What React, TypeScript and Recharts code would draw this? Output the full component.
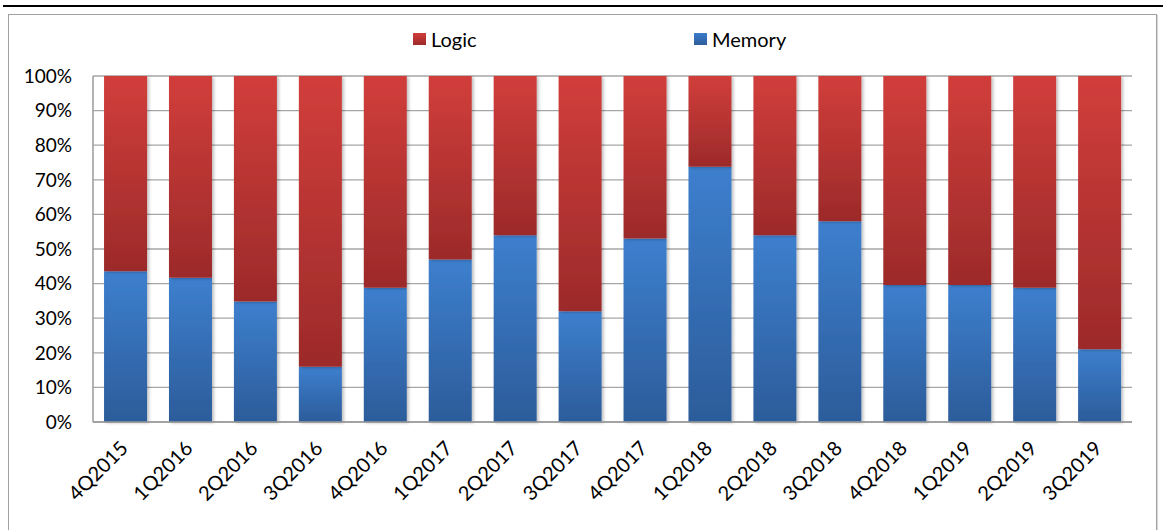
import React from 'react';
import { BarChart, Bar, XAxis, YAxis, CartesianGrid, Legend } from 'recharts';

const quarters = [
  '4Q2015', '1Q2016', '2Q2016', '3Q2016', '4Q2016', '1Q2017', '2Q2017', '3Q2017',
  '4Q2017', '1Q2018', '2Q2018', '3Q2018', '4Q2018', '1Q2019', '2Q2019', '3Q2019',
];
const memoryShare = [43.6, 41.7, 34.8, 16, 38.8, 47, 54, 32, 53, 73.8, 54, 58, 39.6, 39.6, 38.8, 21];
const logicShare = [56.4, 58.3, 65.2, 84, 61.2, 53, 46, 68, 47, 26.2, 46, 42, 60.4, 60.4, 61.2, 79];
const yTicks = [0, 10, 20, 30, 40, 50, 60, 70, 80, 90, 100];

const data = quarters.map((q, i) => ({ q, Memory: memoryShare[i], Logic: logicShare[i] }));

const FONT = 'Lato, "Open Sans", sans-serif';

const QuarterTick = (props: any) => {
  const { x, y, payload } = props;
  const ax = x - 2;
  const ay = y + 14;
  return (
    <text
      x={ax}
      y={ay}
      transform={`rotate(-45 ${ax} ${ay})`}
      textAnchor="end"
      dominantBaseline="central"
      fontFamily={FONT}
      fontSize={20}
      fill="#000"
    >
      {payload.value}
    </text>
  );
};

const LegendBox = () => (
  <div style={{ position: 'relative', height: 24, fontFamily: FONT, fontSize: 20, color: '#000' }}>
    <div style={{ position: 'absolute', left: 405, top: 0, display: 'flex', alignItems: 'center' }}>
      <span style={{ width: 13, height: 12, background: 'linear-gradient(#cf3d3a, #9e2b2b)', marginRight: 5 }} />
      <span>Logic</span>
    </div>
    <div style={{ position: 'absolute', left: 686, top: 0, display: 'flex', alignItems: 'center' }}>
      <span style={{ width: 13, height: 12, background: 'linear-gradient(#3c7dcb, #2d5d9b)', marginRight: 5 }} />
      <span>Memory</span>
    </div>
  </div>
);

export default function App() {
  return (
    <div style={{ position: 'absolute', left: 0, top: 0, width: 1168, height: 530, background: '#fff', overflow: 'hidden' }}>
      <div style={{ position: 'absolute', left: 3, top: 5, width: 1160, height: 2, background: '#000' }} />
      <div
        style={{
          position: 'absolute', left: 8, top: 14, width: 1147, height: 530,
          border: '1.5px solid #a0a0a0', boxShadow: '1px 1px 1px rgba(0,0,0,0.15)',
        }}
      />
      <div style={{ position: 'absolute', left: 8, top: 14 }}>
        <BarChart
          width={1149}
          height={516}
          data={data}
          margin={{ top: 62, right: 25, left: 0, bottom: 0 }}
          barCategoryGap="17%"
        >
          <defs>
            <linearGradient id="gLogic" x1="0" y1="0" x2="0" y2="1">
              <stop offset="0%" stopColor="#d13e3b" />
              <stop offset="100%" stopColor="#9c2a2a" />
            </linearGradient>
            <linearGradient id="gMemory" x1="0" y1="0" x2="0" y2="1">
              <stop offset="0%" stopColor="#3d7fce" />
              <stop offset="100%" stopColor="#2c5c9a" />
            </linearGradient>
            <filter id="barShadow" x="-10%" y="-2%" width="125%" height="106%">
              <feDropShadow dx="2" dy="1" stdDeviation="1.5" floodColor="#000" floodOpacity="0.25" />
            </filter>
          </defs>
          <CartesianGrid vertical={false} stroke="#a6a6a6" strokeWidth={1.3} />
          <XAxis
            dataKey="q"
            height={108}
            interval={0}
            tick={<QuarterTick />}
            tickLine={false}
            axisLine={{ stroke: '#9a9a9a', strokeWidth: 1.5 }}
          />
          <YAxis
            width={85}
            domain={[0, 100]}
            ticks={yTicks}
            tickFormatter={(v: number) => `${v}%`}
            tickLine={false}
            tickSize={0}
            tickMargin={21}
            axisLine={{ stroke: '#9a9a9a', strokeWidth: 1.5 }}
            tick={{ fontFamily: FONT, fontSize: 19, fill: '#000' }}
          />
          <Legend
            verticalAlign="middle"
            align="center"
            layout="horizontal"
            wrapperStyle={{ top: 13, left: 0, width: 1149 }}
            content={<LegendBox />}
          />
          <Bar dataKey="Memory" stackId="s" fill="url(#gMemory)" filter="url(#barShadow)" isAnimationActive={false} />
          <Bar dataKey="Logic" stackId="s" fill="url(#gLogic)" filter="url(#barShadow)" isAnimationActive={false} />
        </BarChart>
      </div>
    </div>
  );
}
